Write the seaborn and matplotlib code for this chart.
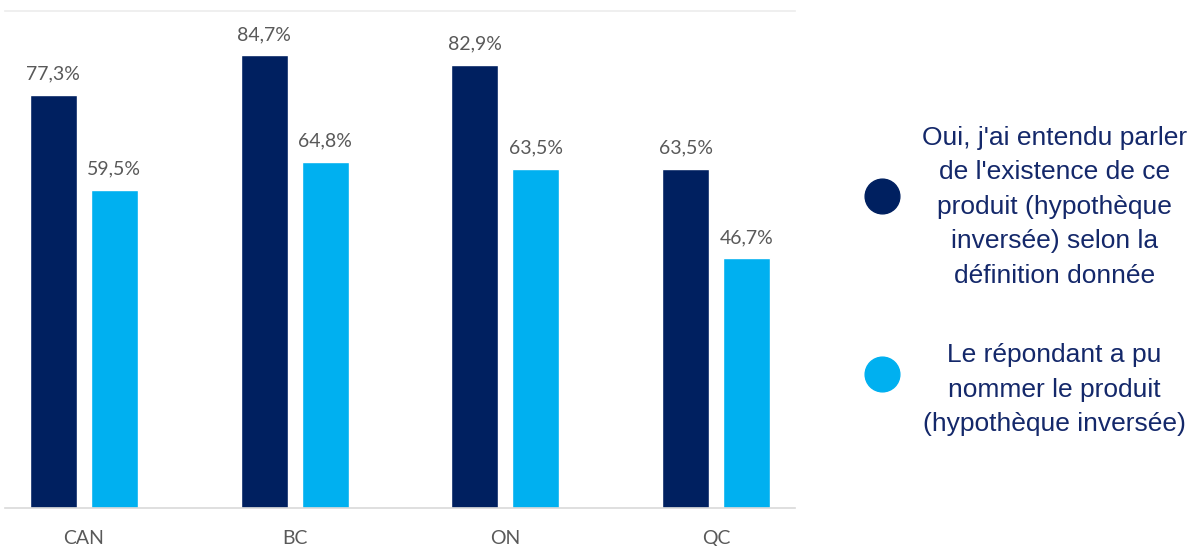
import pandas as pd
import matplotlib.pyplot as plt
import seaborn as sns
from matplotlib.lines import Line2D

# data
regions = ['CAN', 'BC', 'ON', 'QC']
heard_of = [77.3, 84.7, 82.9, 63.5]
could_name = [59.5, 64.8, 63.5, 46.7]
series_names = [
    "Oui, j'ai entendu parler\nde l'existence de ce\nproduit (hypothèque\ninversée) selon la\ndéfinition donnée",
    "Le répondant a pu\nnommer le produit\n(hypothèque inversée)",
]
colors = ['#002060', '#00B0F0']

df = pd.DataFrame({
    'region': regions * 2,
    'value': heard_of + could_name,
    'serie': [series_names[0]] * 4 + [series_names[1]] * 4,
})

sns.set_style('white')
plt.rcParams['font.family'] = ['Lato', 'DejaVu Sans']

fig = plt.figure(figsize=(11.93, 5.46), dpi=100)
ax = fig.add_axes([0.0042, 0.0696, 0.6622, 0.9102])

sns.barplot(data=df, x='region', y='value', hue='serie', palette=colors,
            width=0.578, gap=0.23, legend=False, ax=ax, saturation=1)

for cont in ax.containers:
    labels = [f"{b.get_height():.1f}%".replace('.', ',') for b in cont]
    ax.bar_label(cont, labels=labels, padding=9, fontsize=14, color='#595959')

ax.set_xlim(-0.374, 3.374)
ax.set_ylim(0, 93)
ax.set_xlabel('')
ax.set_ylabel('')
ax.set_yticks([])
ax.tick_params(axis='x', length=0, pad=16, labelsize=14, labelcolor='#595959')
for s in ['left', 'right']:
    ax.spines[s].set_visible(False)
ax.spines['top'].set_color('#ececec')
ax.spines['bottom'].set_color('#d9d9d9')
ax.spines['top'].set_linewidth(1.2)
ax.spines['bottom'].set_linewidth(1.2)

# legend on the right, built by hand
text_color = '#14286a'
legend_pos = [(0.7393, 0.641, 0.884, 0.621), (0.7393, 0.315, 0.884, 0.286)]
for (cx, cy, tx, ty), name, col in zip(legend_pos, series_names, colors):
    fig.add_artist(Line2D([cx], [cy], marker='o', markersize=25, color=col,
                          linestyle='none', transform=fig.transFigure))
    fig.text(tx, ty, name, ha='center', va='center', multialignment='center',
             fontsize=19, color=text_color, linespacing=1.55,
             family=['Liberation Sans', 'DejaVu Sans'])

fig.savefig('out.png', dpi=100)
